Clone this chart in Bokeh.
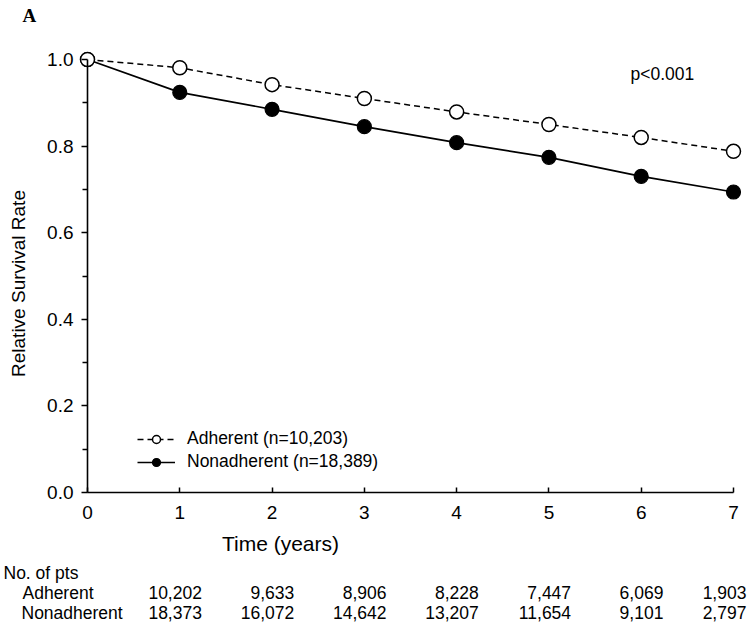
from math import pi
from bokeh.plotting import figure
from bokeh.models import (Range1d, FixedTicker, Label, Legend, LegendItem,
                          NumeralTickFormatter, ColumnDataSource)
from bokeh.embed import file_html
from bokeh.resources import INLINE

# ---------------- data ----------------
years = [0, 1, 2, 3, 4, 5, 6, 7]
adherent = [1.0, 0.981, 0.942, 0.910, 0.879, 0.850, 0.820, 0.788]
nonadherent = [1.0, 0.924, 0.885, 0.845, 0.808, 0.774, 0.730, 0.694]
y_ticks = [0.0, 0.2, 0.4, 0.6, 0.8, 1.0]
y_minor_ticks = [0.1, 0.3, 0.5, 0.7, 0.9]
table_years = [1, 2, 3, 4, 5, 6, 7]
adherent_at_risk = ["10,202", "9,633", "8,906", "8,228", "7,447", "6,069", "1,903"]
nonadherent_at_risk = ["18,373", "16,072", "14,642", "13,207", "11,654", "9,101", "2,797"]
label_adherent = "Adherent (n=10,203)"
label_nonadherent = "Nonadherent (n=18,389)"

FONT = "Liberation Sans"
W, H = 750, 625

p = figure(width=W, height=H, output_backend="svg", toolbar_location=None,
           x_range=Range1d(-0.9427, 7.1842), y_range=Range1d(-0.30716, 1.1363),
           min_border_left=0, min_border_right=0, min_border_top=0,
           min_border_bottom=0, outline_line_color=None)
p.xgrid.visible = False
p.ygrid.visible = False
p.background_fill_color = "white"
p.border_fill_color = "white"

# axes placed at data 0 (inside the frame)
xa = p.xaxis[0]
xa.fixed_location = 0
xa.bounds = (0, 7)
xa.ticker = FixedTicker(ticks=years)
xa.major_tick_in = 5
xa.major_tick_out = 0
xa.minor_tick_line_color = None
xa.major_label_standoff = 13
xa.axis_line_width = 1.6
xa.major_tick_line_width = 1.5
xa.axis_line_color = "black"
xa.major_tick_line_color = "black"
xa.major_label_text_font = FONT
xa.major_label_text_font_size = "19px"
xa.major_label_text_color = "black"

ya = p.yaxis[0]
ya.fixed_location = 0
ya.bounds = (0, 1)
ya.ticker = FixedTicker(ticks=y_ticks, minor_ticks=y_minor_ticks)
ya.formatter = NumeralTickFormatter(format="0.0")
ya.major_tick_out = 6
ya.major_tick_in = 0
ya.minor_tick_out = 5
ya.minor_tick_in = 0
ya.major_label_standoff = 8
ya.axis_line_width = 1.6
ya.major_tick_line_width = 1.5
ya.minor_tick_line_width = 1.5
ya.axis_line_color = "black"
ya.major_tick_line_color = "black"
ya.minor_tick_line_color = "black"
ya.major_label_text_font = FONT
ya.major_label_text_font_size = "19px"
ya.major_label_text_color = "black"

src = ColumnDataSource(dict(x=years, a=adherent, n=nonadherent))

ln_n = p.line("x", "n", source=src, line_color="black", line_width=1.7)
sc_n = p.scatter("x", "n", source=src, size=14, marker="circle",
                 fill_color="black", line_color="black", line_width=1.2)
ln_a = p.line("x", "a", source=src, line_color="black", line_width=1.5,
              line_dash="6 4")
sc_a = p.scatter("x", "a", source=src, size=14, marker="circle",
                 fill_color="white", line_color="black", line_width=1.5)

legend = Legend(items=[LegendItem(label=label_adherent, renderers=[ln_a, sc_a]),
                       LegendItem(label=label_nonadherent, renderers=[ln_n, sc_n])],
                location=(137, 153), padding=0, margin=0, spacing=2,
                glyph_width=38, glyph_height=20, label_height=20,
                label_standoff=12, border_line_color=None,
                background_fill_alpha=0,
                label_text_font=FONT, label_text_font_size="17.5px",
                label_text_color="black")
p.add_layout(legend, "center")


def cy(img_y):
    """image y (from top) -> screen units from the frame bottom"""
    return H - img_y


def add_label(text, x, y, x_units="screen", size="17.5px", align="left",
              font=FONT, style="normal", angle=0):
    p.add_layout(Label(x=x, y=y, x_units=x_units, y_units="screen", text=text,
                       text_font=font, text_font_size=size, text_align=align,
                       text_baseline="middle", text_color="black",
                       text_font_style=style, angle=angle))


# panel letter
add_label("A", 22, cy(15), size="19px", font="Liberation Serif", style="bold")
# y axis title
add_label("Relative Survival Rate", 18, cy(283), size="19px", align="center",
          angle=pi / 2)
# x axis title
add_label("Time (years)", 280, cy(543), size="21px", align="center")
# p value
add_label("p<0.001", 630, cy(73), size="17.5px")

# number at risk table
add_label("No. of pts", 3, cy(572))
add_label("Adherent", 22, cy(592))
add_label("Nonadherent", 21, cy(612))
for yr, a_txt, n_txt in zip(table_years, adherent_at_risk, nonadherent_at_risk):
    xr = min(yr + 0.24, 7.14)
    add_label(a_txt, xr, cy(592), x_units="data", align="right")
    add_label(n_txt, xr, cy(612), x_units="data", align="right")

open("out.html", "w").write(file_html(p, INLINE))
